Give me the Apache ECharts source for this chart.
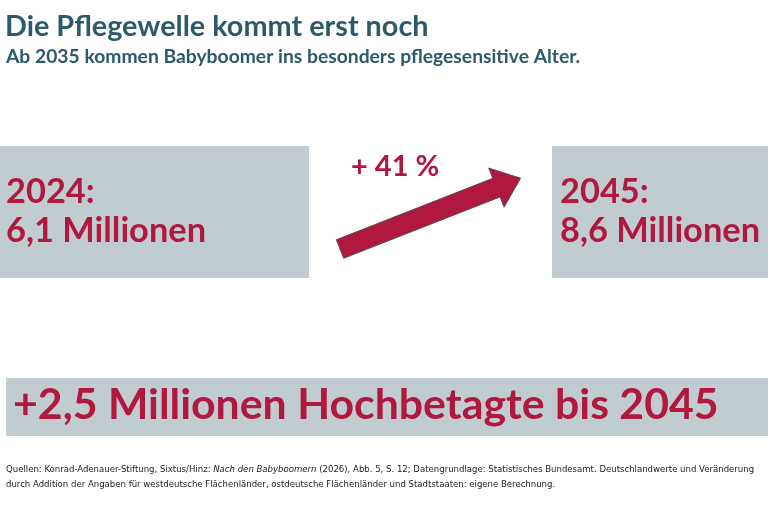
<!DOCTYPE html>
<html>
    <head>
        <meta charset="utf-8">
        <title>Die Pflegewelle kommt erst noch</title>
        <script src="https://cdn.jsdelivr.net/npm/echarts@6/dist/echarts.min.js"></script>
        <style>
            html, body { margin: 0; padding: 0; background: #ffffff; }
        </style>
    </head>
    <body>
        <div id="box" style="width: 768px;height: 519px;"></div>
        <script>
            // Daten
            var years = ['2024', '2045'];
            var pflegebeduerftigeMio = [6.1, 8.6];
            var anstiegProzent = [41];
            var zuwachsHochbetagteMio = [2.5];
            var titel = 'Die Pflegewelle kommt erst noch';
            var untertitel = 'Ab 2035 kommen Babyboomer ins besonders pflegesensitive Alter.';
            var quellen = [
                'Quellen: Konrad-Adenauer-Stiftung, Sixtus/Hinz: {i|Nach den Babyboomern} (2026), Abb. 5, S. 12; Datengrundlage: Statistisches Bundesamt. Deutschlandwerte und Veränderung',
                'durch Addition der Angaben für westdeutsche Flächenländer, ostdeutsche Flächenländer und Stadtstaaten: eigene Berechnung.'
            ];

            var rot = '#b0183f';
            var grau = '#c1ccd1';
            var teal = '#2d5a6b';
            var fussFont = '"Liberation Sans Narrow", "DejaVu Sans Condensed", sans-serif';

            function de(v) {
                return String(v).replace('.', ',');
            }

            var myChart = echarts.init(document.getElementById('box'), null, { renderer: 'canvas' });

            // Pfeil: lokale Koordinaten, dann gedreht
            var L = 194, h = 26, sw = 10, hw = 21;
            var arrowPts = [
                [0, -sw], [L - h, -sw], [L - h, -hw], [L, 0],
                [L - h, hw], [L - h, sw], [0, sw]
            ];

            var boxX = [0, 552];
            var boxW = [309, 216];
            var textX = [6, 560];

            var elements = [
                { type: 'text', x: 5, y: 12, style: { text: titel, fill: teal, font: 'bold 28.8px Lato' } },
                { type: 'text', x: 6, y: 47, style: { text: untertitel, fill: teal, font: 'bold 19.3px Lato' } }
            ];

            years.forEach(function (y, i) {
                elements.push({
                    type: 'rect', shape: { x: boxX[i], y: 146, width: boxW[i], height: 132 },
                    style: { fill: grau }
                });
                elements.push({
                    type: 'text', x: textX[i], y: 175,
                    style: { text: y + ':', fill: rot, font: 'bold 34.4px Lato' }
                });
                elements.push({
                    type: 'text', x: textX[i], y: 214,
                    style: { text: de(pflegebeduerftigeMio[i]) + ' Millionen', fill: rot, font: 'bold 34.4px Lato' }
                });
            });

            elements.push({
                type: 'polygon', x: 340, y: 249, rotation: Math.atan2(71, 181),
                shape: { points: arrowPts },
                style: { fill: rot, stroke: '#4a4a4a', lineWidth: 0.8 }
            });
            elements.push({
                type: 'text', x: 351, y: 152,
                style: { text: '+ ' + anstiegProzent[0] + ' %', fill: rot, font: 'bold 29px Lato' }
            });

            elements.push({
                type: 'rect', shape: { x: 6, y: 378, width: 762, height: 58 },
                style: { fill: grau }
            });
            elements.push({
                type: 'text', x: 13, y: 384,
                style: { text: '+' + de(zuwachsHochbetagteMio[0]) + ' Millionen Hochbetagte bis 2045', fill: rot, font: 'bold 42.8px Lato' }
            });

            quellen.forEach(function (q, i) {
                elements.push({
                    type: 'text', x: 6, y: 465 + i * 15,
                    style: {
                        text: q, fill: '#222222',
                        font: '9.5px ' + fussFont,
                        rich: { i: { fontStyle: 'italic', fontSize: 9.5, fontFamily: fussFont, fill: '#222222' } }
                    }
                });
            });

            var option = {
                backgroundColor: '#ffffff',
                animation: false,
                graphic: { elements: elements }
            };
            myChart.setOption(option);
        </script>
    </body>
</html>
